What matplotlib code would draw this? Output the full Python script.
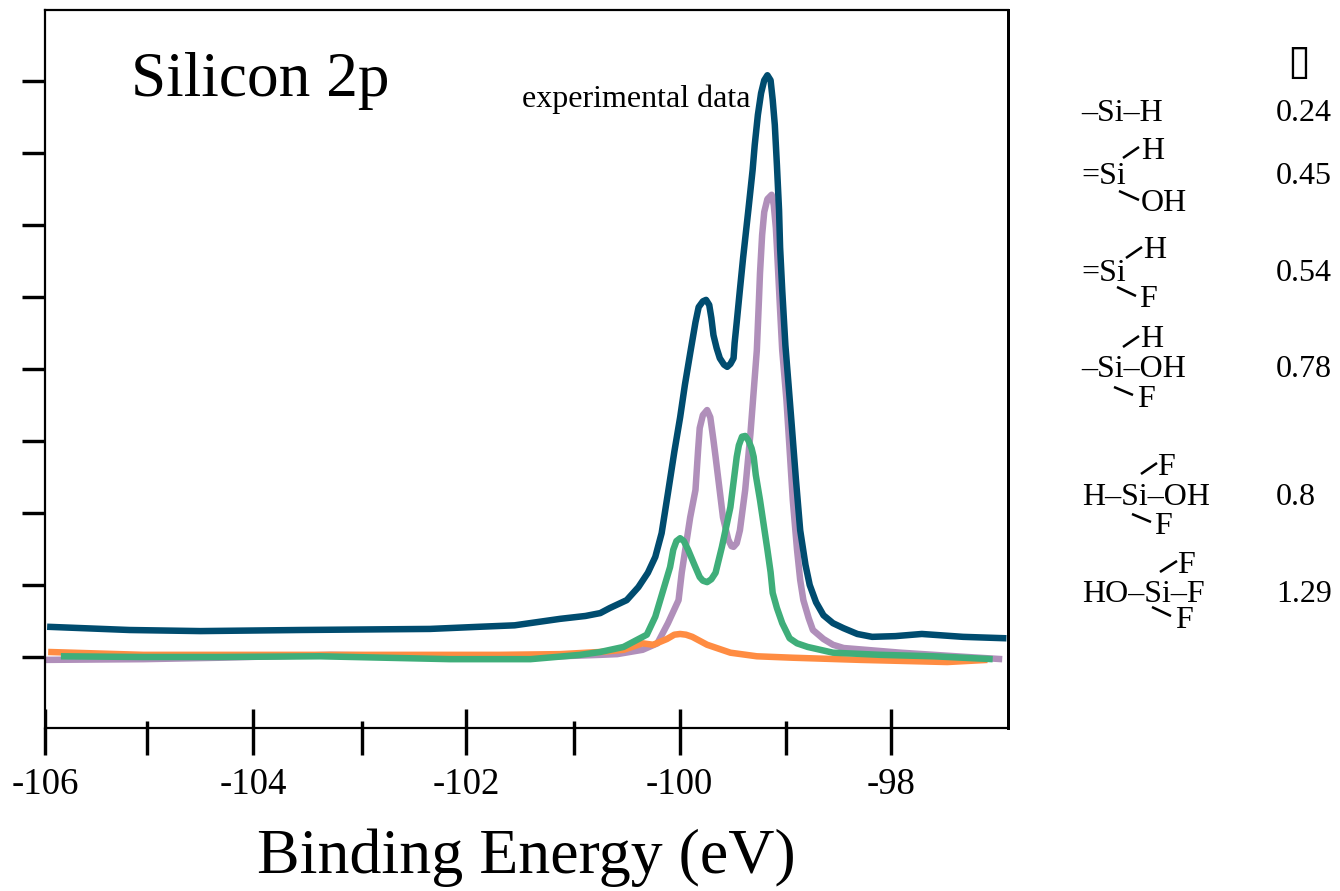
import matplotlib
matplotlib.use('Agg')
import matplotlib.pyplot as plt

# curves, x in eV, y in tick units
exp_x = [-105.98, -105.20, -104.53, -103.59, -102.36, -101.89, -101.56, -101.13, -100.89, -100.75,
         -100.66, -100.50, -100.39, -100.30, -100.23, -100.17, -100.11, -100.05, -99.995, -99.95,
         -99.90, -99.85, -99.82, -99.78, -99.75, -99.72, -99.70, -99.68, -99.65, -99.62,
         -99.58, -99.55, -99.52, -99.49, -99.48, -99.46, -99.43, -99.40, -99.35, -99.31,
         -99.29, -99.26, -99.23, -99.20, -99.17, -99.14, -99.12, -99.10, -99.08, -99.06,
         -99.05, -99.03, -99.00, -98.97, -98.94, -98.90, -98.86, -98.81, -98.77, -98.71,
         -98.64, -98.55, -98.45, -98.32, -98.18, -97.96, -97.71, -97.32, -96.91]
exp_y = [0.42, 0.375, 0.36, 0.375, 0.39, 0.42, 0.44, 0.53, 0.57, 0.61,
         0.68, 0.79, 0.97, 1.17, 1.39, 1.72, 2.28, 2.85, 3.33, 3.78,
         4.22, 4.65, 4.86, 4.94, 4.96, 4.89, 4.71, 4.47, 4.29, 4.15,
         4.06, 4.03, 4.07, 4.15, 4.36, 4.65, 5.10, 5.54, 6.21, 6.76,
         7.11, 7.53, 7.83, 8.01, 8.08, 8.01, 7.74, 7.39, 6.83, 6.21,
         5.69, 5.10, 4.33, 3.78, 3.22, 2.46, 1.76, 1.28, 1.00, 0.76,
         0.58, 0.47, 0.40, 0.32, 0.28, 0.29, 0.32, 0.28, 0.26]

purple_x = [-106.00, -105.07, -104.35, -103.30, -102.17, -101.32, -100.75, -100.59, -100.35, -100.21,
            -100.11, -100.01, -99.98, -99.90, -99.85, -99.825, -99.81, -99.78, -99.74, -99.71,
            -99.68, -99.66, -99.59, -99.54, -99.51, -99.49, -99.46, -99.43, -99.38, -99.33,
            -99.27, -99.25, -99.24, -99.22, -99.20, -99.17, -99.13, -99.11, -99.09, -99.08,
            -99.05, -99.03, -98.99, -98.96, -98.93, -98.89, -98.86, -98.83, -98.78, -98.74,
            -98.64, -98.55, -98.45, -97.91, -97.28, -96.95]
purple_y = [-0.04, -0.03, -0.01, 0.03, 0.01, 0.00, 0.03, 0.04, 0.10, 0.19,
            0.47, 0.79, 1.17, 1.94, 2.32, 2.88, 3.18, 3.36, 3.43, 3.33,
            3.01, 2.78, 1.94, 1.63, 1.54, 1.53, 1.58, 1.76, 2.32, 3.11,
            4.26, 4.96, 5.33, 5.86, 6.18, 6.36, 6.42, 6.28, 5.96, 5.69,
            4.82, 4.26, 3.57, 2.88, 2.18, 1.49, 1.07, 0.79, 0.54, 0.375,
            0.25, 0.17, 0.125, 0.06, 0.00, -0.03]

green_x = [-105.85, -105.07, -104.37, -103.40, -102.17, -101.41, -100.94, -100.75, -100.53, -100.31,
           -100.23, -100.09, -100.06, -100.03, -99.995, -99.96, -99.92, -99.86, -99.81, -99.78,
           -99.74, -99.70, -99.66, -99.63, -99.60, -99.52, -99.46, -99.44, -99.41, -99.38,
           -99.35, -99.32, -99.30, -99.28, -99.24, -99.17, -99.14, -99.12, -99.08, -99.03,
           -98.99, -98.96, -98.89, -98.79, -98.55, -98.10, -97.60, -97.04]
green_y = [0.01, 0.00, 0.00, 0.01, -0.03, -0.03, 0.03, 0.07, 0.14, 0.31,
           0.56, 1.25, 1.49, 1.61, 1.65, 1.61, 1.49, 1.28, 1.11, 1.06,
           1.04, 1.08, 1.17, 1.35, 1.53, 2.08, 2.78, 2.94, 3.06, 3.07,
           3.01, 2.90, 2.78, 2.53, 2.18, 1.49, 1.18, 0.89, 0.68, 0.47,
           0.35, 0.26, 0.19, 0.14, 0.06, 0.03, 0.01, -0.03]

orange_x = [-105.97, -105.07, -103.59, -101.70, -101.13, -100.75, -100.53, -100.35, -100.25, -100.12,
            -100.05, -99.995, -99.94, -99.88, -99.74, -99.52, -99.27, -98.93, -98.29, -97.47, -97.09]
orange_y = [0.07, 0.03, 0.03, 0.03, 0.04, 0.07, 0.10, 0.19, 0.17, 0.25,
            0.31, 0.32, 0.31, 0.28, 0.17, 0.06, 0.01, -0.01, -0.04, -0.07, -0.04]

# tick places as they sit in the picture, they are not quite even
x_major = [-106, -104.03, -102.02, -100, -98]
x_major_labels = ['-106', '-104', '-102', '-100', '-98']
x_minor = [-105.04, -103, -101, -98.99]
y_ticks = [0, 1, 2, 3, 4, 5, 6, 7, 8]

# right hand table, (text, left x, baseline y) in pixels
formula_texts = [
    ('–Si–H', 1081, 121),
    ('H', 1141, 159), ('=Si', 1081, 184), ('OH', 1141, 211),
    ('H', 1143, 258), ('=Si', 1081, 281), ('F', 1139, 307),
    ('H', 1140, 347), ('–Si–OH', 1081, 377), ('F', 1137, 407),
    ('F', 1157, 475), ('H–Si–OH', 1082, 505), ('F', 1154, 534),
    ('F', 1177, 573), ('HO–Si–F', 1082, 602), ('F', 1175, 628),
]
bonds = [
    (1123, 158, 1139, 147), (1119, 191, 1139, 200),
    (1126, 258, 1142, 247), (1117, 287, 1136, 296),
    (1123, 347, 1139, 336), (1114, 387, 1133, 395),
    (1141, 474, 1157, 463), (1132, 514, 1151, 522),
    (1160, 572, 1177, 561), (1152, 607, 1171, 616),
]
value_texts = [
    ('0.24', 1276, 121), ('0.45', 1276, 184), ('0.54', 1276, 281),
    ('0.78', 1276, 377), ('0.8', 1276, 505), ('1.29', 1276, 602),
]

plt.rcParams['font.family'] = ['Liberation Serif', 'DejaVu Sans']

W, H = 1340, 891
px = 72 / 100  # points per pixel
fig = plt.figure(figsize=(W / 100, H / 100), dpi=100)

ax = fig.add_axes([45 / W, 1 - 728 / H, (1007.5 - 45) / W, (728 - 10) / H])
ax.set_xlim(-106, -96.9)
ax.set_ylim(-0.986, 8.986)

line_w = 6.5 * px
ax.plot(purple_x, purple_y, color='#b08fba', lw=line_w, solid_capstyle='butt')
ax.plot(exp_x, exp_y, color='#004c6f', lw=line_w, solid_capstyle='butt')
ax.plot(orange_x, orange_y, color='#ff8c42', lw=line_w, solid_capstyle='butt')
ax.plot(green_x, green_y, color='#3fae7a', lw=line_w, solid_capstyle='butt')

ax.set_xticks(x_major)
ax.set_xticklabels(x_major_labels, fontsize=26.5)
ax.set_xticks(x_minor, minor=True)
ax.set_yticks(y_ticks)
ax.set_yticklabels([])
ax.tick_params(axis='x', which='both', length=27 * px, width=3.4 * px, pad=13 * px, color='black')
ax.tick_params(axis='y', length=23 * px, width=3.4 * px, color='black')

# the x ticks also stick up into the plot
trans = ax.get_xaxis_transform()
ax.vlines(x_major, 0, 19 / 718, transform=trans, color='black', lw=3.4 * px)
ax.vlines(x_minor, 0, 7 / 718, transform=trans, color='black', lw=3.4 * px)

for name, side in ax.spines.items():
    side.set_linewidth(2.2 * px)
ax.spines['right'].set_linewidth(3 * px)

ax.set_xlabel('Binding Energy (eV)', fontsize=46, labelpad=26 * px)

# overlay in pixel coordinates for the annotations
over = fig.add_axes([0, 0, 1, 1])
over.set_xlim(0, W)
over.set_ylim(H, 0)
over.set_axis_off()
over.patch.set_alpha(0)

over.text(131, 96, 'Silicon 2p', fontsize=45.5, va='baseline')
over.text(522, 107, 'experimental data', fontsize=23, va='baseline')

for s, x, y in formula_texts:
    over.text(x, y, s, fontsize=23, va='baseline')
for s, x, y in value_texts:
    over.text(x, y, s, fontsize=23, va='baseline')
for x0, y0, x1, y1 in bonds:
    over.plot([x0, x1], [y0, y1], color='black', lw=2.5 * px, solid_capstyle='butt')

over.text(1299, 62, '▯', fontsize=30, ha='center', va='center', family='DejaVu Sans')

fig.savefig('out.png', dpi=100)
